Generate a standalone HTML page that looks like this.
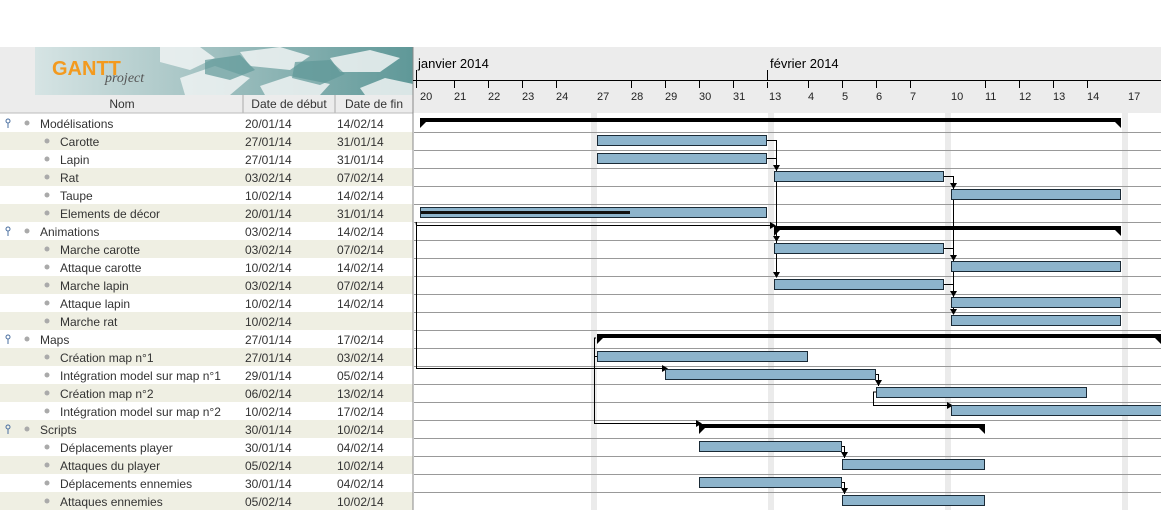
<!DOCTYPE html>
<html><head><meta charset="utf-8"><style>
body{margin:0;width:1161px;height:510px;overflow:hidden;background:#fff;font-family:"Liberation Sans",sans-serif;}
svg{position:absolute;left:0;top:0}
</style></head><body>
<svg width="1161" height="510" xmlns="http://www.w3.org/2000/svg" font-family="Liberation Sans, sans-serif">
<defs>
<linearGradient id="lg" x1="0" x2="1" y1="0" y2="0"><stop offset="0" stop-color="#d6e4e4"/><stop offset="0.4" stop-color="#a9c6c6"/><stop offset="1" stop-color="#5f9898"/></linearGradient>
</defs>
<!-- header gray -->
<rect x="0" y="47" width="1161" height="66" fill="#ececec"/>
<!-- logo -->
<rect x="35" y="47" width="378" height="48" fill="url(#lg)"/>
<g fill="#f0f4f4" opacity="0.85">
<polygon points="160,47 200,47 215,58 190,70 160,62"/>
<polygon points="180,78 215,66 250,78 230,95 185,95"/>
<polygon points="240,52 280,47 310,56 290,70 250,66"/>
<polygon points="260,86 290,76 330,84 320,95 265,95"/>
<polygon points="330,58 370,50 400,58 380,72 340,72"/>
<polygon points="360,88 385,78 413,84 413,95 365,95"/>
</g>
<g fill="#5f9898" opacity="0.7">
<polygon points="205,60 240,55 255,70 230,80 205,74"/>
<polygon points="295,62 330,60 345,74 320,85 292,78"/>
</g>
<text x="52" y="75" font-size="20" font-weight="bold" fill="#f39a1e">GANTT</text>
<text x="105" y="82" font-size="14" font-style="italic" font-family="Liberation Serif, serif" fill="#555">project</text>
<!-- column headers -->
<rect x="0" y="95" width="413" height="18" fill="#ececec"/>
<line x1="243" y1="95" x2="243" y2="113" stroke="#aaa"/>
<line x1="335" y1="95" x2="335" y2="113" stroke="#aaa"/>
<line x1="0" y1="113" x2="413" y2="113" stroke="#bbb"/>
<g font-size="12" fill="#333">
<text x="122" y="108" text-anchor="middle">Nom</text>
<text x="289" y="108" text-anchor="middle">Date de début</text>
<text x="374" y="108" text-anchor="middle">Date de fin</text>
</g>
<!-- row backgrounds -->
<g fill="#efefe3">
<rect x="0" y="132" width="413" height="18"/><rect x="0" y="168" width="413" height="18"/>
<rect x="0" y="204" width="413" height="18"/><rect x="0" y="240" width="413" height="18"/>
<rect x="0" y="276" width="413" height="18"/><rect x="0" y="312" width="413" height="18"/>
<rect x="0" y="348" width="413" height="18"/><rect x="0" y="384" width="413" height="18"/>
<rect x="0" y="420" width="413" height="18"/><rect x="0" y="456" width="413" height="18"/>
<rect x="0" y="492" width="413" height="18"/>
</g>
<!-- pins -->
<g fill="#4a6fa0" stroke="#4a6fa0">
<circle cx="8" cy="121" r="2" fill="none"/><line x1="8" y1="123" x2="8" y2="128"/>
<circle cx="8" cy="229" r="2" fill="none"/><line x1="8" y1="231" x2="8" y2="236"/>
<circle cx="8" cy="337" r="2" fill="none"/><line x1="8" y1="339" x2="8" y2="344"/>
<circle cx="8" cy="427" r="2" fill="none"/><line x1="8" y1="429" x2="8" y2="434"/>
</g>
<g fill="#aaa">
<circle cx="27" cy="123" r="2.5"/><circle cx="27" cy="231" r="2.5"/><circle cx="27" cy="339" r="2.5"/><circle cx="27" cy="429" r="2.5"/>
<circle cx="47" cy="141" r="2.5"/><circle cx="47" cy="159" r="2.5"/><circle cx="47" cy="177" r="2.5"/><circle cx="47" cy="195" r="2.5"/><circle cx="47" cy="213" r="2.5"/>
<circle cx="47" cy="249" r="2.5"/><circle cx="47" cy="267" r="2.5"/><circle cx="47" cy="285" r="2.5"/><circle cx="47" cy="303" r="2.5"/><circle cx="47" cy="321" r="2.5"/>
<circle cx="47" cy="357" r="2.5"/><circle cx="47" cy="375" r="2.5"/><circle cx="47" cy="393" r="2.5"/><circle cx="47" cy="411" r="2.5"/>
<circle cx="47" cy="447" r="2.5"/><circle cx="47" cy="465" r="2.5"/><circle cx="47" cy="483" r="2.5"/><circle cx="47" cy="501" r="2.5"/>
</g>
<g font-size="12" fill="#333">
<text x="40" y="128">Modélisations</text><text x="245" y="128">20/01/14</text><text x="337" y="128">14/02/14</text>
<text x="60" y="146">Carotte</text><text x="245" y="146">27/01/14</text><text x="337" y="146">31/01/14</text>
<text x="60" y="164">Lapin</text><text x="245" y="164">27/01/14</text><text x="337" y="164">31/01/14</text>
<text x="60" y="182">Rat</text><text x="245" y="182">03/02/14</text><text x="337" y="182">07/02/14</text>
<text x="60" y="200">Taupe</text><text x="245" y="200">10/02/14</text><text x="337" y="200">14/02/14</text>
<text x="60" y="218">Elements de décor</text><text x="245" y="218">20/01/14</text><text x="337" y="218">31/01/14</text>
<text x="40" y="236">Animations</text><text x="245" y="236">03/02/14</text><text x="337" y="236">14/02/14</text>
<text x="60" y="254">Marche carotte</text><text x="245" y="254">03/02/14</text><text x="337" y="254">07/02/14</text>
<text x="60" y="272">Attaque carotte</text><text x="245" y="272">10/02/14</text><text x="337" y="272">14/02/14</text>
<text x="60" y="290">Marche lapin</text><text x="245" y="290">03/02/14</text><text x="337" y="290">07/02/14</text>
<text x="60" y="308">Attaque lapin</text><text x="245" y="308">10/02/14</text><text x="337" y="308">14/02/14</text>
<text x="60" y="326">Marche rat</text><text x="245" y="326">10/02/14</text>
<text x="40" y="344">Maps</text><text x="245" y="344">27/01/14</text><text x="337" y="344">17/02/14</text>
<text x="60" y="362">Création map n°1</text><text x="245" y="362">27/01/14</text><text x="337" y="362">03/02/14</text>
<text x="60" y="380">Intégration model sur map n°1</text><text x="245" y="380">29/01/14</text><text x="337" y="380">05/02/14</text>
<text x="60" y="398">Création map n°2</text><text x="245" y="398">06/02/14</text><text x="337" y="398">13/02/14</text>
<text x="60" y="416">Intégration model sur map n°2</text><text x="245" y="416">10/02/14</text><text x="337" y="416">17/02/14</text>
<text x="40" y="434">Scripts</text><text x="245" y="434">30/01/14</text><text x="337" y="434">10/02/14</text>
<text x="60" y="452">Déplacements player</text><text x="245" y="452">30/01/14</text><text x="337" y="452">04/02/14</text>
<text x="60" y="470">Attaques du player</text><text x="245" y="470">05/02/14</text><text x="337" y="470">10/02/14</text>
<text x="60" y="488">Déplacements ennemies</text><text x="245" y="488">30/01/14</text><text x="337" y="488">04/02/14</text>
<text x="60" y="506">Attaques ennemies</text><text x="245" y="506">05/02/14</text><text x="337" y="506">10/02/14</text>
</g>
<!-- chart area -->
<rect x="414" y="113" width="747" height="397" fill="#fff"/>
<g fill="#ebebeb">
<rect x="591" y="113" width="6" height="397"/><rect x="768" y="113" width="6" height="397"/>
<rect x="945" y="113" width="6" height="397"/><rect x="1122" y="113" width="6" height="397"/>
</g>
<g stroke="#999" stroke-width="1">
<line x1="414" y1="132.5" x2="1161" y2="132.5"/><line x1="414" y1="150.5" x2="1161" y2="150.5"/>
<line x1="414" y1="168.5" x2="1161" y2="168.5"/><line x1="414" y1="186.5" x2="1161" y2="186.5"/>
<line x1="414" y1="204.5" x2="1161" y2="204.5"/><line x1="414" y1="222.5" x2="1161" y2="222.5"/>
<line x1="414" y1="240.5" x2="1161" y2="240.5"/><line x1="414" y1="258.5" x2="1161" y2="258.5"/>
<line x1="414" y1="276.5" x2="1161" y2="276.5"/><line x1="414" y1="294.5" x2="1161" y2="294.5"/>
<line x1="414" y1="312.5" x2="1161" y2="312.5"/><line x1="414" y1="330.5" x2="1161" y2="330.5"/>
<line x1="414" y1="348.5" x2="1161" y2="348.5"/><line x1="414" y1="366.5" x2="1161" y2="366.5"/>
<line x1="414" y1="384.5" x2="1161" y2="384.5"/><line x1="414" y1="402.5" x2="1161" y2="402.5"/>
<line x1="414" y1="420.5" x2="1161" y2="420.5"/><line x1="414" y1="438.5" x2="1161" y2="438.5"/>
<line x1="414" y1="456.5" x2="1161" y2="456.5"/><line x1="414" y1="474.5" x2="1161" y2="474.5"/>
<line x1="414" y1="492.5" x2="1161" y2="492.5"/>
</g>
<line x1="413" y1="47" x2="413" y2="510" stroke="#888"/>
<!-- timeline header -->
<line x1="413" y1="80.5" x2="1161" y2="80.5" stroke="#000"/>
<line x1="416.5" y1="70" x2="416.5" y2="88" stroke="#000"/>
<line x1="767.5" y1="82" x2="767.5" y2="88" stroke="#000"/>
<line x1="767.5" y1="70" x2="767.5" y2="80" stroke="#000"/>
<g font-size="13" fill="#000"><text x="418" y="68">janvier 2014</text><text x="770" y="68">février 2014</text></g>
<g stroke="#000">
<line x1="454.5" y1="80" x2="454.5" y2="88"/><line x1="488.5" y1="80" x2="488.5" y2="88"/><line x1="522.5" y1="80" x2="522.5" y2="88"/><line x1="556.5" y1="80" x2="556.5" y2="88"/>
<line x1="631.5" y1="80" x2="631.5" y2="88"/><line x1="665.5" y1="80" x2="665.5" y2="88"/><line x1="699.5" y1="80" x2="699.5" y2="88"/><line x1="733.5" y1="80" x2="733.5" y2="88"/>
<line x1="808.5" y1="80" x2="808.5" y2="88"/><line x1="842.5" y1="80" x2="842.5" y2="88"/><line x1="876.5" y1="80" x2="876.5" y2="88"/><line x1="910.5" y1="80" x2="910.5" y2="88"/>
<line x1="985.5" y1="80" x2="985.5" y2="88"/><line x1="1019.5" y1="80" x2="1019.5" y2="88"/><line x1="1053.5" y1="80" x2="1053.5" y2="88"/><line x1="1087.5" y1="80" x2="1087.5" y2="88"/>
</g>
<g font-size="11" fill="#222">
<text x="420" y="100">20</text><text x="454" y="100">21</text><text x="488" y="100">22</text><text x="522" y="100">23</text><text x="556" y="100">24</text>
<text x="597" y="100">27</text><text x="631" y="100">28</text><text x="665" y="100">29</text><text x="699" y="100">30</text><text x="733" y="100">31</text>
<text x="769" y="100">13</text><text x="808" y="100">4</text><text x="842" y="100">5</text><text x="876" y="100">6</text><text x="910" y="100">7</text>
<text x="951" y="100">10</text><text x="985" y="100">11</text><text x="1019" y="100">12</text><text x="1053" y="100">13</text><text x="1087" y="100">14</text><text x="1128" y="100">17</text>
</g>
<!-- connectors -->
<g stroke="#000" fill="none" stroke-width="1">
<polyline points="767,140.5 776.5,140.5 776.5,276"/>
<polyline points="767,158.5 776.5,158.5"/>
<polyline points="944,176.5 953.5,176.5 953.5,312"/>
<polyline points="944,248.5 953.5,248.5"/><polyline points="944,284.5 953.5,284.5"/>
<polyline points="416,222 416.5,225.5 770,225.5"/>
<polyline points="416.5,222 416.5,368.5 662,368.5"/>
<polyline points="596,338 594.5,338 594.5,423.5 696,423.5"/>
<polyline points="594.5,356.5 597,356.5"/>
<polyline points="876,374.5 878.5,374.5 878.5,386"/>
<polyline points="876,392 873.5,392 873.5,405.5 947,405.5"/>
<polyline points="842,446.5 844.5,446.5 844.5,458"/>
<polyline points="842,482.5 844.5,482.5 844.5,494"/>
</g>
<g fill="#000">
<polygon points="773,165 780,165 776.5,171"/><polygon points="950,183 957,183 953.5,189"/>
<polygon points="773,236 780,236 776.5,242"/><polygon points="773,272 780,272 776.5,278"/>
<polygon points="950,255 957,255 953.5,261"/><polygon points="950,291 957,291 953.5,297"/><polygon points="950,309 957,309 953.5,315"/>
<polygon points="770,222 776,225.5 770,229"/><polygon points="662,365 668,368.5 662,372"/>
<polygon points="696,420 702,423.5 696,427"/><polygon points="947,402 953,405.5 947,409"/>
<polygon points="875,380 882,380 878.5,386"/><polygon points="841,452 848,452 844.5,458"/><polygon points="841,488 848,488 844.5,494"/>
</g>
<!-- summary bars -->
<g fill="#000">
<rect x="420" y="118" width="701" height="4"/><polygon points="420,118 426,122 420,128"/><polygon points="1121,118 1115,122 1121,128"/>
<rect x="774" y="226" width="347" height="4"/><polygon points="774,226 780,230 774,236"/><polygon points="1121,226 1115,230 1121,236"/>
<rect x="597" y="334" width="564" height="4"/><polygon points="597,334 603,338 597,344"/><polygon points="1161,334 1155,338 1161,344"/>
<rect x="699" y="424" width="286" height="4"/><polygon points="699,424 705,428 699,434"/><polygon points="985,424 979,428 985,434"/>
</g>
<!-- task bars -->
<g fill="#8db4cc" stroke="#1a2a36" stroke-width="1">
<rect x="597.5" y="135.5" width="169" height="10"/>
<rect x="597.5" y="153.5" width="169" height="10"/>
<rect x="774.5" y="171.5" width="169" height="10"/>
<rect x="951.5" y="189.5" width="169" height="10"/>
<rect x="420.5" y="207.5" width="346" height="10"/>
<rect x="774.5" y="243.5" width="169" height="10"/>
<rect x="951.5" y="261.5" width="169" height="10"/>
<rect x="774.5" y="279.5" width="169" height="10"/>
<rect x="951.5" y="297.5" width="169" height="10"/>
<rect x="951.5" y="315.5" width="169" height="10"/>
<rect x="597.5" y="351.5" width="210" height="10"/>
<rect x="665.5" y="369.5" width="210" height="10"/>
<rect x="876.5" y="387.5" width="210" height="10"/>
<rect x="951.5" y="405.5" width="215" height="10"/>
<rect x="699.5" y="441.5" width="142" height="10"/>
<rect x="842.5" y="459.5" width="142" height="10"/>
<rect x="699.5" y="477.5" width="142" height="10"/>
<rect x="842.5" y="495.5" width="142" height="10"/>
</g>
<rect x="421" y="211" width="209" height="3" fill="#111"/>
</svg>
</body></html>
